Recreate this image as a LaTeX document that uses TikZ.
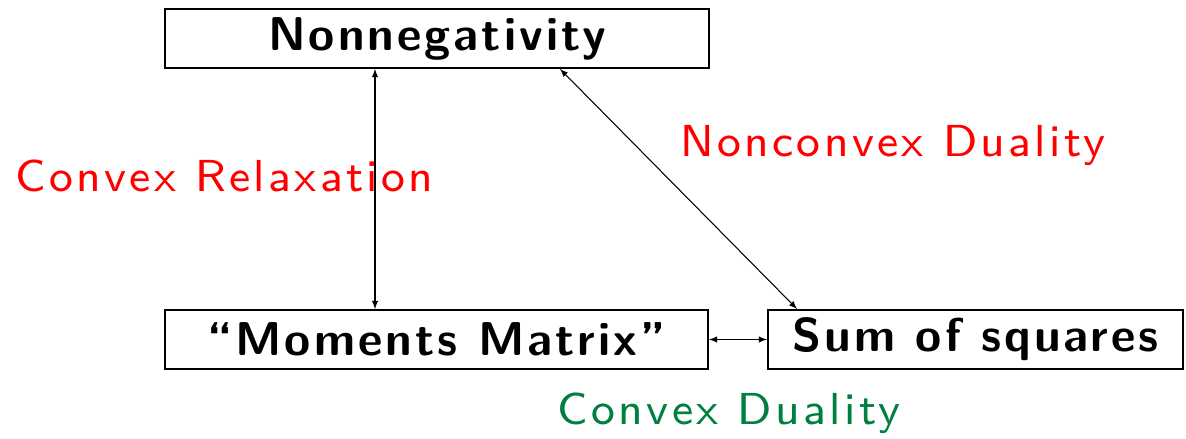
\documentclass[tikz,border=0pt]{standalone}
\usepackage{fontspec}
\usepackage{tikz}
\usetikzlibrary{arrows,positioning}

\newfontfamily\tagfont{lmsans8-regular.otf}[LetterSpace=7.5]
\newfontfamily\boxfont{lmsans10-bold.otf}[LetterSpace=6.5]

\definecolor{dualgreen}{rgb}{0,0.5,0.25}

\tikzset{
    bigbox/.style={draw, line width=1.1pt, minimum height=1.18cm, inner sep=0pt,
        font=\boxfont\fontsize{27}{32}\selectfont},
    tag/.style={font=\tagfont\fontsize{25.5}{30}\selectfont, inner sep=0pt},
    link/.style={<->, >=latex, line width=0.6pt}
}

\begin{document}
\begin{tikzpicture}

\useasboundingbox (0,0) rectangle (23.72,-8.78);

\node [bigbox, minimum width=10.88cm] (nonneg) at (8.74,-0.77) {Nonnegativity};
\node [bigbox, minimum width=10.86cm] (moments) at (8.73,-6.79) {“Moments Matrix”};
\node [bigbox, minimum width=8.30cm] (sos) at (19.51,-6.79) {Sum of squares};

\node [tag, red, anchor=west] (relax) at (0.30,-3.52) {Convex Relaxation};
\node [tag, red, anchor=west] (nonconv) at (13.60,-2.92) {Nonconvex Duality};
\node [tag, dualgreen] (conv) at (14.58,-8.26) {Convex Duality};

\draw [link] ([xshift=-1.24cm]nonneg.south) -- ([xshift=-1.23cm]moments.north);
\draw [link] ([xshift=2.46cm]nonneg.south) -- ([xshift=0.60cm]sos.north west);
\draw [link] (moments) -- (sos);

\end{tikzpicture}
\end{document}
